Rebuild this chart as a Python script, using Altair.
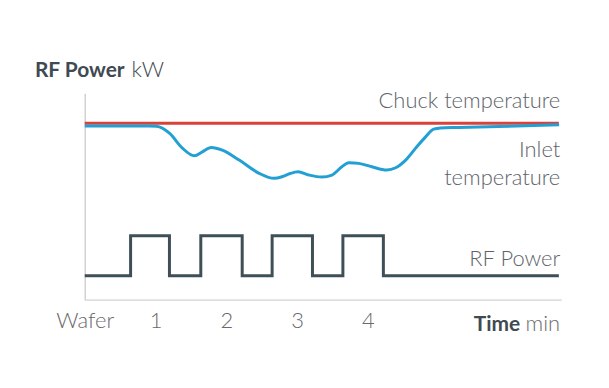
import altair as alt
import pandas as pd

# ---- data (x in minutes, y in arbitrary chart units) ----
pulse_t = [0.0, 0.648, 1.197, 1.64, 2.225, 2.648, 3.218, 3.648, 4.22, 6.70]
pulse_v = [24, 64, 24, 64, 24, 64, 24, 64, 24, 24]

chuck_t = [0.0, 6.70]
chuck_v = [177, 177]

inlet_t = [0.0, 0.915, 1.014, 1.197, 1.380, 1.549, 1.662, 1.789, 1.944, 2.183,
           2.465, 2.676, 2.789, 2.902, 3.014, 3.169, 3.352, 3.493, 3.634, 3.732,
           3.873, 4.056, 4.268, 4.394, 4.535, 4.676, 4.817, 4.930, 5.028, 5.282,
           5.845, 6.704]
inlet_v = [174.3, 174.3, 174.0, 167.0, 152.0, 144.3, 148.3, 152.7, 150.0, 140.0,
           126.7, 121.7, 123.3, 126.5, 128.2, 125.0, 123.0, 125.0, 133.3, 137.3,
           136.7, 133.3, 130.0, 132.3, 140.0, 152.0, 163.3, 171.0, 172.3, 172.7,
           173.7, 175.5]

tick_values = [0, 1, 2, 3, 4]
tick_first_label = "Wafer"

label_chuck = "Chuck temperature"
label_inlet = ["Inlet", "temperature"]
label_rf = "RF Power"

FONT = "Lato"
TEXT_GRAY = "#5d6369"
DARK = "#3f4a52"

x_scale = alt.Scale(domain=[0, 6.732], nice=False, zero=False)
y_scale = alt.Scale(domain=[0, 207], nice=False, zero=False)

x_axis = alt.Axis(values=tick_values, labelExpr=f"datum.value == 0 ? '{tick_first_label}' : datum.label",
                  format="d", grid=False, ticks=False, domainColor="#d2d2d2", domainWidth=1.5,
                  labelFont=FONT, labelFontSize=22, labelFontWeight=300, labelColor="#6a6a6a",
                  labelPadding=11, title=None, labelFlush=False)
y_axis = alt.Axis(labels=False, ticks=False, grid=False, domainColor="#d2d2d2", domainWidth=1.5,
                  title=None)

pulse_df = pd.DataFrame({"t": pulse_t, "v": pulse_v})
chuck_df = pd.DataFrame({"t": chuck_t, "v": chuck_v})
inlet_df = pd.DataFrame({"t": inlet_t, "v": inlet_v})

pulse = alt.Chart(pulse_df).mark_line(color="#3f4f58", strokeWidth=3, interpolate="step-after").encode(
    x=alt.X("t:Q", scale=x_scale, axis=x_axis),
    y=alt.Y("v:Q", scale=y_scale, axis=y_axis),
)
chuck = alt.Chart(chuck_df).mark_line(color="#d9413b", strokeWidth=3).encode(
    x=alt.X("t:Q", scale=x_scale), y=alt.Y("v:Q", scale=y_scale))
inlet = alt.Chart(inlet_df).mark_line(color="#22a0d3", strokeWidth=3, interpolate="monotone").encode(
    x=alt.X("t:Q", scale=x_scale), y=alt.Y("v:Q", scale=y_scale))

lab_df = pd.DataFrame({
    "t": [6.72, 6.72, 6.72, 6.72],
    "v": [192.3, 143.3, 115.0, 34.0],
    "txt": [label_chuck, label_inlet[0], label_inlet[1], label_rf],
})
labels = alt.Chart(lab_df).mark_text(align="right", baseline="alphabetic", font=FONT, fontSize=22,
                                     fontWeight=300, color=TEXT_GRAY).encode(
    x=alt.X("t:Q", scale=x_scale), y=alt.Y("v:Q", scale=y_scale), text="txt:N")

one = pd.DataFrame({"a": [0]})
title_bold = alt.Chart(one).mark_text(align="left", baseline="alphabetic", font=FONT, fontSize=21,
                                      fontWeight="bold", color=DARK, text="RF Power").encode(
    x=alt.value(-50), y=alt.value(-16))
title_unit = alt.Chart(one).mark_text(align="left", baseline="alphabetic", font=FONT, fontSize=22,
                                      fontWeight=300, color=DARK, text="kW").encode(
    x=alt.value(47), y=alt.value(-16))
time_bold = alt.Chart(one).mark_text(align="right", baseline="alphabetic", font=FONT, fontSize=21,
                                     fontWeight="bold", color=DARK, text="Time").encode(
    x=alt.value(437), y=alt.value(238.7))
time_unit = alt.Chart(one).mark_text(align="right", baseline="alphabetic", font=FONT, fontSize=22,
                                     fontWeight=300, color="#6a6a6a", text="min").encode(
    x=alt.value(477), y=alt.value(238.7))

chart = alt.layer(pulse, chuck, inlet, labels, title_bold, title_unit, time_bold, time_unit).properties(
    width=478, height=207,
    autosize=alt.AutoSizeParams(type="none"),
    padding={"left": 77, "top": 85, "right": 40, "bottom": 70},
).configure(background="white").configure_view(strokeWidth=0, stroke="transparent")

chart.save("out.html", embed_options={"renderer": "svg", "actions": False})
